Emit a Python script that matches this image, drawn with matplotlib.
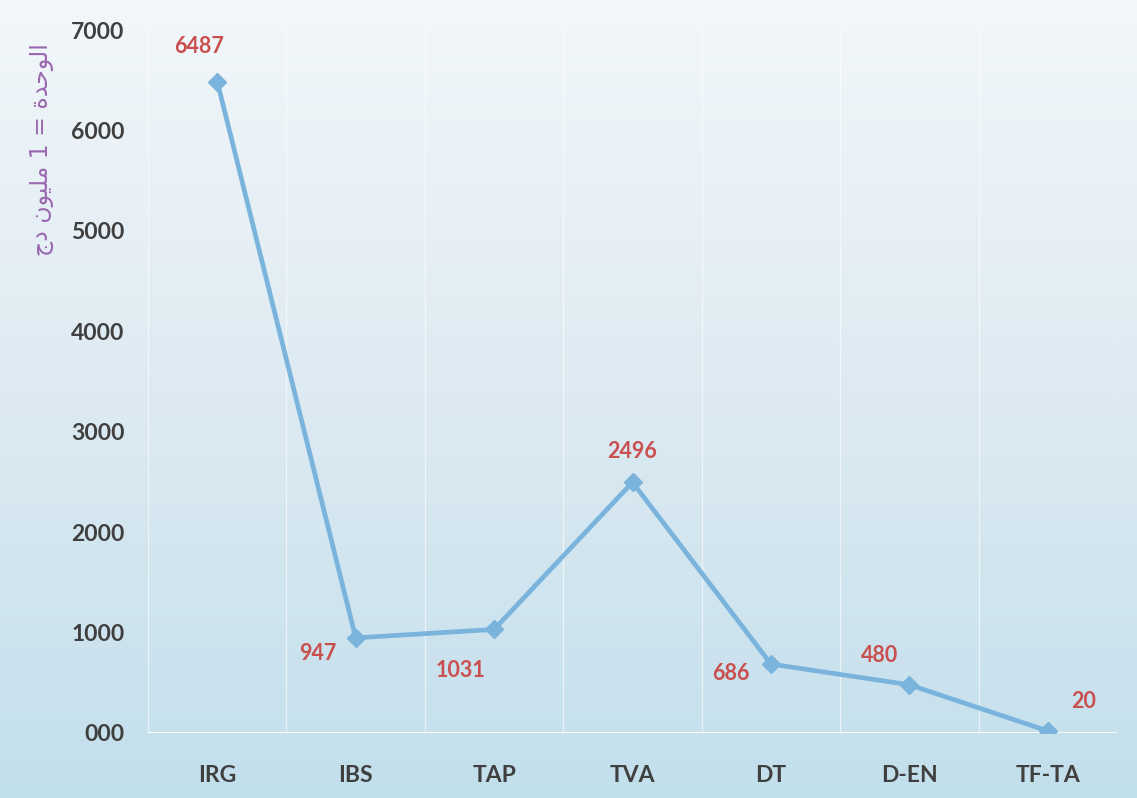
import numpy as np
import matplotlib.pyplot as plt

# أصناف الضرائب والقيم (الوحدة = 1 مليون دج)
categories = ["IRG", "IBS", "TAP", "TVA", "DT", "D-EN", "TF-TA"]
values = [6487, 947, 1031, 2496, 686, 480, 20]
ytick_labels = ["000", "1000", "2000", "3000", "4000", "5000", "6000", "7000"]
# عنوان المحور بحروف عربية مشكّلة (ترتيب بصري)
ylabel_text = ("\uFE9D\uFEA9 \uFEE5\uFEEE\uFEF4\uFEE0\uFEE3 1 = "
               "\uFE93\uFEAA\uFEA3\uFEEE\uFEDF\uFE8D")

# إزاحة كل تسمية عن نقطتها بالبكسل
label_offsets = [(-18, 35), (-38, -16), (-34, -41), (0, 31), (-40, -9), (-30, 29), (36, 29)]

fig = plt.figure(figsize=(11.37, 7.98), dpi=100)

# خلفية متدرجة
bg = fig.add_axes([0, 0, 1, 1], zorder=-10)
top = np.array([242, 247, 250]) / 255
mid = np.array([221, 234, 242]) / 255
bot = np.array([194, 223, 236]) / 255
t = np.linspace(0, 1, 256)[:, None]
grad = np.where(t < 0.5, top + (mid - top) * (t / 0.5), mid + (bot - mid) * ((t - 0.5) / 0.5))
bg.imshow(grad[:, None, :], aspect="auto", extent=[0, 1, 0, 1])
bg.axis("off")

ax = fig.add_axes([0.1302, 0.0815, 0.8522, 0.8809])
ax.patch.set_alpha(0)
x = np.arange(len(categories))
ax.plot(x, values, color="#7ab4dc", lw=3.4, marker="D", ms=9.5, mec="#7ab4dc", mfc="#7ab4dc", zorder=3)

for xi, v, (dx, dy) in zip(x, values, label_offsets):
    ax.annotate(str(v), (xi, v), xytext=(dx * 0.72, dy * 0.72), textcoords="offset points",
                ha="center", va="center", color="#c9504f", fontsize=15.5,
                fontweight="bold", family="Lato")

ax.set_xlim(-0.5, len(categories) - 0.5)
ax.set_ylim(0, 7000)
for b in np.arange(-0.5, len(categories), 1.0):
    ax.axvline(b, color="white", lw=0.9, alpha=0.6, zorder=1)
ax.axhline(0, color="white", lw=1.5, alpha=0.9, zorder=1)

ax.set_xticks(x)
ax.set_xticklabels(categories)
ax.set_yticks(np.arange(0, 7001, 1000))
ax.set_yticklabels(ytick_labels)
ax.tick_params(length=0, colors="#3f3f3f", labelsize=16.5)
ax.tick_params(axis="x", pad=23)
ax.tick_params(axis="y", pad=17)
for lab in ax.get_xticklabels() + ax.get_yticklabels():
    lab.set_fontweight("bold")
    lab.set_family("Lato")
for s in ax.spines.values():
    s.set_visible(False)

fig.text(0.037, 0.812, ylabel_text, rotation=90, ha="center", va="center",
         color="#9a68b0", fontsize=17, family="DejaVu Sans")

plt.savefig("out.png", dpi=100)
